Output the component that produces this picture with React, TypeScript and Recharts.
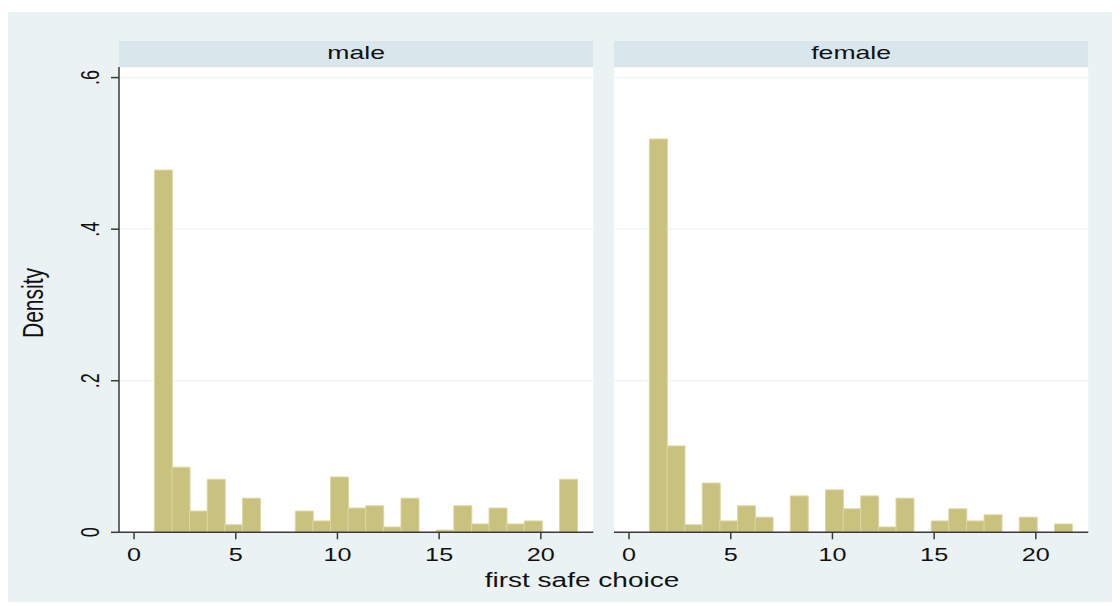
import React from 'react'
import { ComposedChart, Bar, XAxis, YAxis, CartesianGrid } from 'recharts'

// histogram bin midpoints (first safe choice), 24 bins of width ~0.866
const binMid = [
  1.433, 2.299, 3.165, 4.031, 4.897, 5.763, 6.629, 7.495, 8.361, 9.227, 10.093, 10.959,
  11.825, 12.691, 13.557, 14.423, 15.289, 16.155, 17.021, 17.887, 18.753, 19.619, 20.485, 21.351,
]

const maleDensity = [
  0.478, 0.086, 0.028, 0.07, 0.01, 0.045, 0, 0, 0.028, 0.015, 0.073, 0.032,
  0.035, 0.007, 0.045, 0, 0.003, 0.035, 0.011, 0.032, 0.011, 0.015, 0, 0.07,
]

const femaleDensity = [
  0.519, 0.114, 0.01, 0.065, 0.015, 0.035, 0.02, 0, 0.048, 0, 0.056, 0.031,
  0.048, 0.007, 0.045, 0, 0.015, 0.031, 0.015, 0.023, 0, 0.02, 0, 0.011,
]

const xTicks = [0, 5, 10, 15, 20]
const yTicks = [0, 0.2, 0.4, 0.6]
const yTickLabels = ['0', '.2', '.4', '.6']

const panels = [
  { name: 'male', values: maleDensity },
  { name: 'female', values: femaleDensity },
]

const BG = '#eaf2f3'
const STRIP = '#d9e6ec'
const FILL = '#c9c17e'
const EDGE = '#ddd8a4'
const AXIS = '#3a3a3a'
const FONT = '"Liberation Sans", Arial, sans-serif'
const SX = 1.4 // the original graph is stretched horizontally

const XTick = (props: any) => {
  const { x, y, payload } = props
  return (
    <text
      transform={`translate(${x},${y}) scale(${SX},1)`}
      dy={20}
      textAnchor="middle"
      fontSize={18}
      fontFamily={FONT}
      fill="#111"
    >
      {payload.value}
    </text>
  )
}

const YTick = (props: any) => {
  const { x, y, payload } = props
  const i = yTicks.indexOf(payload.value)
  return (
    <text
      transform={`translate(${x - 21},${y}) scale(${SX},1) rotate(-90)`}
      textAnchor="middle"
      dominantBaseline="central"
      fontSize={18}
      fontFamily={FONT}
      fill="#111"
    >
      {yTickLabels[i]}
    </text>
  )
}

function Panel({ values, left, showY }: { values: number[]; left: number; showY: boolean }) {
  const data = binMid.map((m, i) => ({ mid: m, density: values[i] }))
  return (
    <div style={{ position: 'absolute', left, top: 0 }}>
      <ComposedChart
        width={600}
        height={594}
        data={data}
        margin={{ top: 55, right: 14.7, bottom: 43.7, left: showY ? 51 : 111 }}
        barCategoryGap={0}
        barGap={0}
      >
        <CartesianGrid vertical={false} fill="#ffffff" stroke={BG} strokeWidth={1} />
        <XAxis
          type="number"
          dataKey="mid"
          domain={[-0.74, 22.58]}
          allowDataOverflow
          ticks={xTicks}
          tickSize={7}
          tickMargin={2}
          height={30}
          stroke={AXIS}
          tickLine={{ stroke: AXIS, strokeWidth: 1.5 }}
          axisLine={{ stroke: AXIS, strokeWidth: 1.5 }}
          tick={<XTick />}
        />
        <YAxis
          type="number"
          domain={[0, 0.614]}
          allowDataOverflow
          ticks={yTicks}
          hide={!showY}
          width={60}
          tickSize={8}
          tickMargin={0}
          stroke={AXIS}
          tickLine={{ stroke: AXIS, strokeWidth: 1.5 }}
          axisLine={{ stroke: AXIS, strokeWidth: 1.5 }}
          tick={<YTick />}
        />
        <Bar dataKey="density" fill={FILL} stroke={EDGE} strokeWidth={1} isAnimationActive={false} />
      </ComposedChart>
    </div>
  )
}

export default function App() {
  const textStyle: React.CSSProperties = {
    position: 'absolute',
    fontFamily: FONT,
    color: '#111',
    whiteSpace: 'nowrap',
  }
  return (
    <div
      style={{
        position: 'relative',
        top: 4,
        width: 1112,
        height: 594,
        background: BG,
        overflow: 'hidden',
      }}
    >
      <Panel values={panels[0].values} left={0} showY={true} />
      <Panel values={panels[1].values} left={495} showY={false} />

      {/* panel strips */}
      {panels.map((p, i) => (
        <div
          key={p.name}
          style={{
            position: 'absolute',
            left: i === 0 ? 111 : 606,
            top: 29,
            width: 474.3,
            height: 26,
            background: STRIP,
          }}
        >
          <div
            style={{
              ...textStyle,
              left: 0,
              right: 0,
              top: 0,
              lineHeight: '24px',
              fontSize: 19,
              textAlign: 'center',
              transform: `scaleX(${SX})`,
            }}
          >
            {p.name}
          </div>
        </div>
      ))}

      {/* axis titles */}
      <div
        style={{
          ...textStyle,
          left: 374,
          width: 400,
          top: 556,
          fontSize: 20,
          lineHeight: '24px',
          textAlign: 'center',
          transform: `scaleX(${SX})`,
        }}
      >
        first safe choice
      </div>
      <div
        style={{
          ...textStyle,
          left: 24.5 - 50,
          top: 291 - 12,
          width: 100,
          fontSize: 21,
          lineHeight: '24px',
          textAlign: 'center',
          transform: `scaleX(${SX}) rotate(-90deg)`,
        }}
      >
        Density
      </div>
    </div>
  )
}
